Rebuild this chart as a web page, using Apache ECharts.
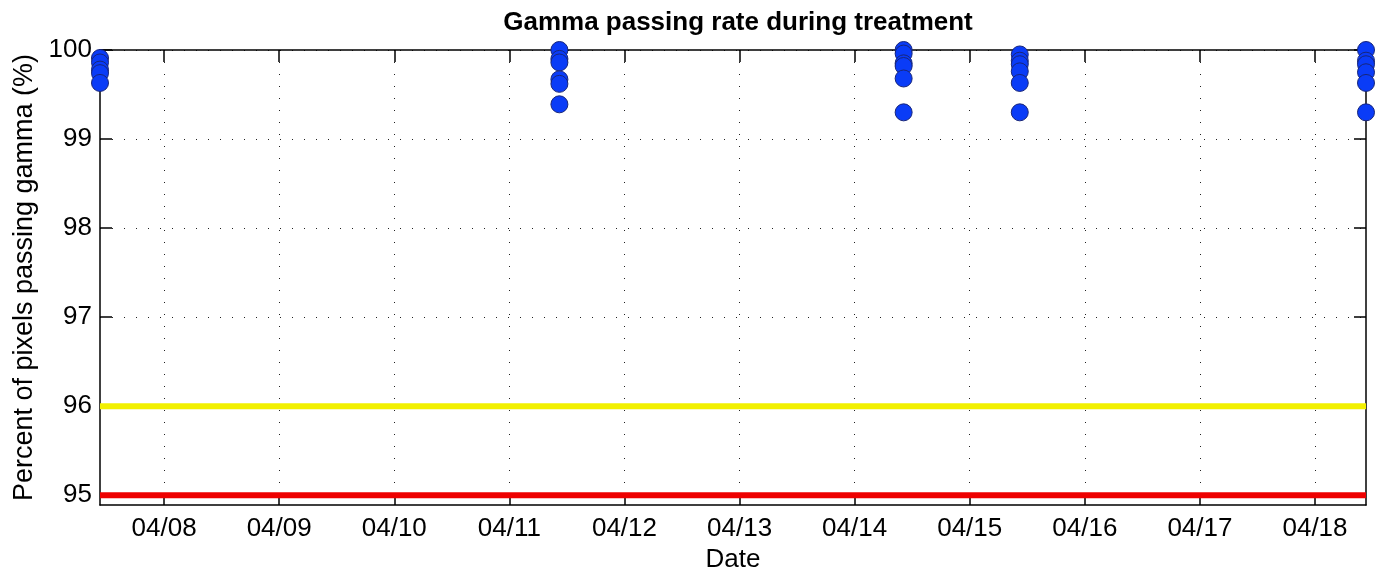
<!DOCTYPE html>
<html>
<head>
<meta charset="utf-8">
<script src="https://cdn.jsdelivr.net/npm/echarts@6/dist/echarts.min.js"></script>
<style>
  html, body { margin: 0; padding: 0; background: #fff; }
  #chart { width: 1375px; height: 575px; }
</style>
</head>
<body>
<div id="chart"></div>
<script>
// dates of the measurement sessions (one column of dots each)
var runDates = ['2014-04-07T10:38', '2014-04-11T10:26', '2014-04-14T10:13', '2014-04-15T10:26', '2014-04-18T10:38'];
// gamma passing rate (%) for every beam of each session
var gammaRuns = [
    [99.91, 99.86, 99.78, 99.74, 99.63],
    [100.0, 99.90, 99.86, 99.67, 99.62, 99.39],
    [100.0, 99.96, 99.85, 99.82, 99.68, 99.30],
    [99.95, 99.88, 99.84, 99.76, 99.63, 99.30],
    [100.0, 99.88, 99.84, 99.75, 99.63, 99.30]
];
var dayTicks = ['2014-04-08T00:00', '2014-04-09T00:00', '2014-04-10T00:00', '2014-04-11T00:00',
    '2014-04-12T00:00', '2014-04-13T00:00', '2014-04-14T00:00', '2014-04-15T00:00',
    '2014-04-16T00:00', '2014-04-17T00:00', '2014-04-18T00:00'];
var yTicks = [95, 96, 97, 98, 99, 100];
var warnLevel = 96;   // yellow
var actionLevel = 95; // red

function toTime(s) { return new Date(s).getTime(); }
function pad(n) { return (n < 10 ? '0' : '') + n; }
function mmdd(v) {
    var d = new Date(v);
    return pad(d.getMonth() + 1) + '/' + pad(d.getDate());
}

var points = [];
for (var i = 0; i < runDates.length; i++) {
    for (var j = 0; j < gammaRuns[i].length; j++) {
        points.push([toTime(runDates[i]), gammaRuns[i][j]]);
    }
}
var xFirst = toTime(runDates[0]);
var xLast = toTime(runDates[runDates.length - 1]);
var xTicks = dayTicks.map(toTime);

var font = 'Liberation Sans, Arial, Helvetica, sans-serif';

function xAxisOf(pos, showLabel) {
    return {
        type: 'value',
        position: pos,
        min: xFirst,
        max: xLast,
        axisLine: { show: true, onZero: false, lineStyle: { color: '#000', width: 1.5 } },
        axisTick: { show: true, inside: true, length: 12, customValues: xTicks, lineStyle: { color: '#000', width: 1.5 } },
        axisLabel: {
            show: showLabel, customValues: xTicks, margin: 11,
            fontSize: 26, color: '#000', fontFamily: font,
            formatter: mmdd
        },
        splitLine: { show: pos === 'bottom', lineStyle: { color: '#222', width: 1, type: [1, 11] } },
        name: showLabel ? 'Date' : '',
        nameLocation: 'middle',
        nameGap: 41,
        nameTextStyle: { fontSize: 26, color: '#000', fontFamily: font }
    };
}

function yAxisOf(pos, showLabel) {
    return {
        type: 'value',
        position: pos,
        min: 94.89,
        max: 100,
        axisLine: { show: true, onZero: false, lineStyle: { color: '#000', width: 1.5 } },
        axisTick: { show: true, inside: true, length: 12, customValues: yTicks, lineStyle: { color: '#000', width: 1.5 } },
        axisLabel: {
            show: showLabel, customValues: yTicks, margin: 8,
            fontSize: 26, color: '#000', fontFamily: font
        },
        splitLine: { show: pos === 'left', lineStyle: { color: '#222', width: 1, type: [1, 11] } },
        name: showLabel ? 'Percent of pixels passing gamma (%)' : '',
        nameLocation: 'middle',
        nameGap: 61,
        nameTextStyle: { fontSize: 27, color: '#000', fontFamily: font }
    };
}

var chart = echarts.init(document.getElementById('chart'));
chart.setOption({
    animation: false,
    backgroundColor: '#fff',
    title: {
        text: 'Gamma passing rate during treatment',
        left: 733, top: 5, textAlign: 'center',
        textStyle: { fontSize: 26, fontWeight: 'bold', color: '#000', fontFamily: font }
    },
    grid: { left: 100, right: 9, top: 50, bottom: 70, outerBoundsMode: 'none' },
    xAxis: [xAxisOf('bottom', true), xAxisOf('top', false)],
    yAxis: [yAxisOf('left', true), yAxisOf('right', false)],
    series: [
        {
            type: 'line', symbol: 'none',
            data: [[xFirst, warnLevel], [xLast, warnLevel]],
            lineStyle: { color: '#f2f000', width: 6 }
        },
        {
            type: 'line', symbol: 'none',
            data: [[xFirst, actionLevel], [xLast, actionLevel]],
            lineStyle: { color: '#ee0000', width: 6 }
        },
        {
            type: 'scatter',
            data: points,
            symbolSize: 17,
            clip: false,
            itemStyle: { color: '#0a3cf7', borderColor: '#18267a', borderWidth: 1, opacity: 1 }
        }
    ]
});
</script>
</body>
</html>
